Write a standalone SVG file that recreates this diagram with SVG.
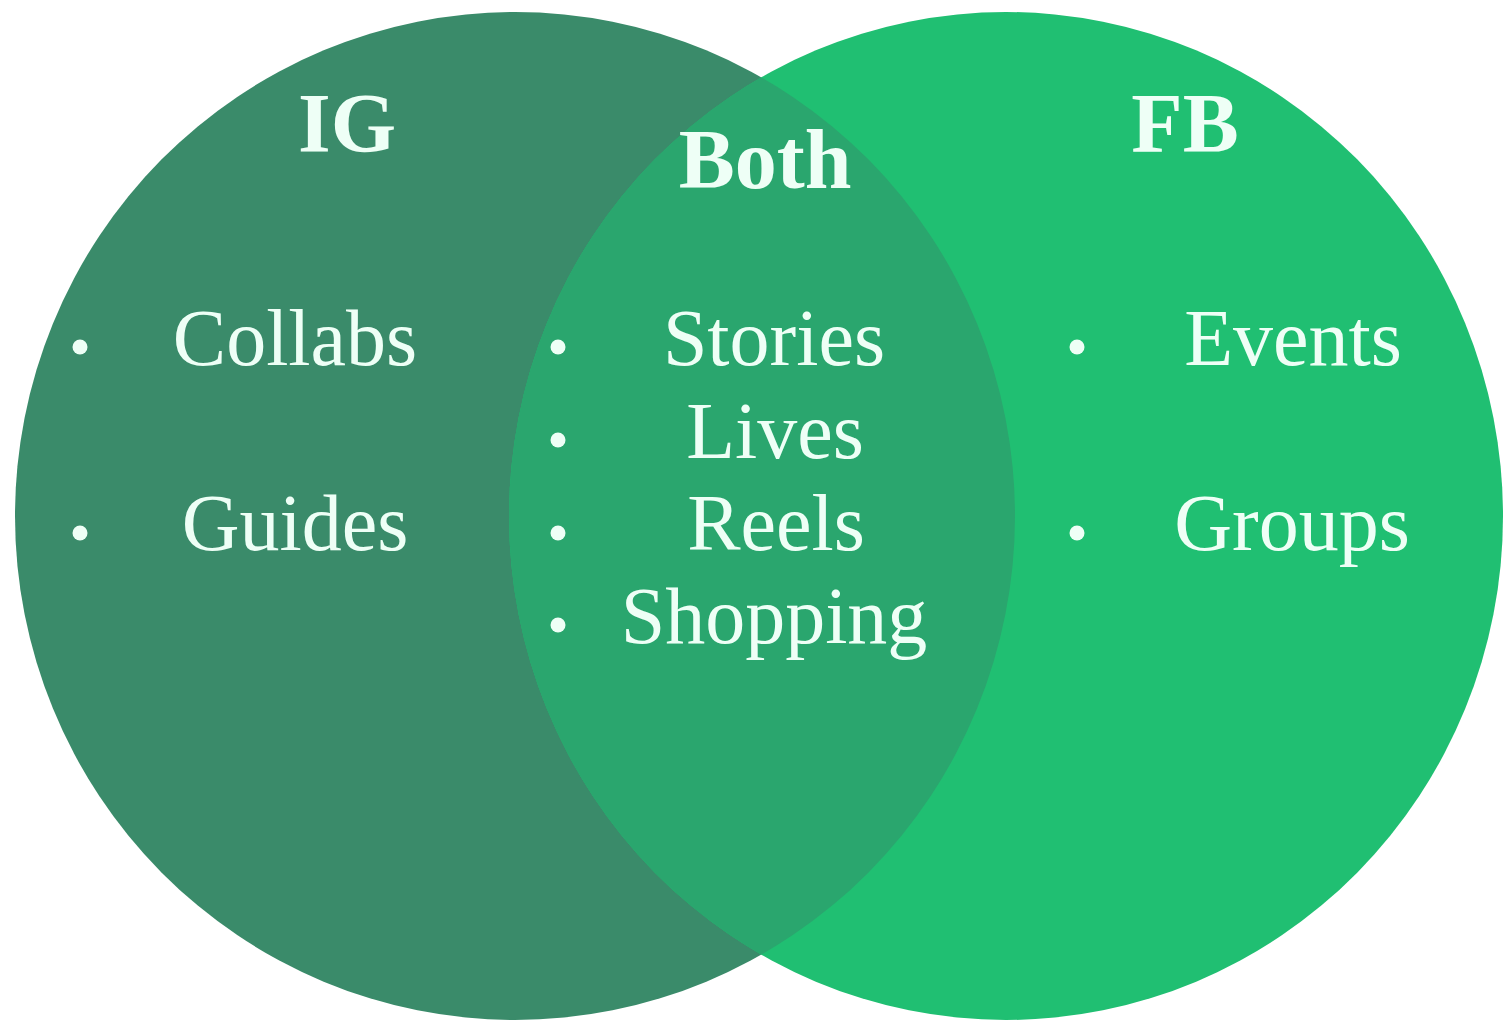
<svg xmlns="http://www.w3.org/2000/svg" width="1509" height="1024" viewBox="0 0 1509 1024">
<style>
.t{font-family:"Liberation Serif","Times New Roman",serif;fill:#eefff6;text-anchor:middle}
.h{font-size:84px;font-weight:bold}
.b{font-size:80px}
.dot{fill:#eefff6}
</style>
<rect width="1509" height="1024" fill="#ffffff"/>
<g id="ig-circle"><ellipse cx="515" cy="516" rx="500" ry="504" fill="#3a8b6a"/></g>
<g id="fb-circle"><ellipse cx="1006" cy="516" rx="497" ry="504" fill="#20bf72"/></g>
<g id="overlap">
<clipPath id="cl"><ellipse cx="515" cy="516" rx="500" ry="504"/></clipPath>
<ellipse cx="1006" cy="516" rx="497" ry="504" fill="#2aa66e" clip-path="url(#cl)"/>
</g>
<g id="ig">
<text class="t h" x="347" y="152">IG</text>
<circle class="dot" cx="80" cy="347" r="7.5"/>
<text class="t b" x="295" y="365">Collabs</text>
<circle class="dot" cx="80" cy="533" r="7.5"/>
<text class="t b" x="295" y="550">Guides</text>
</g>
<g id="both">
<text class="t h" x="765" y="188">Both</text>
<circle class="dot" cx="558" cy="347" r="7.5"/>
<text class="t b" x="774" y="365">Stories</text>
<circle class="dot" cx="558" cy="440" r="7.5"/>
<text class="t b" x="775" y="458">Lives</text>
<circle class="dot" cx="558" cy="533" r="7.5"/>
<text class="t b" x="776" y="550">Reels</text>
<circle class="dot" cx="558" cy="625" r="7.5"/>
<text class="t b" x="774" y="643">Shopping</text>
</g>
<g id="fb">
<text class="t h" x="1185" y="152">FB</text>
<circle class="dot" cx="1077" cy="347" r="7.5"/>
<text class="t b" x="1293" y="365">Events</text>
<circle class="dot" cx="1077" cy="533" r="7.5"/>
<text class="t b" x="1292" y="550">Groups</text>
</g>
<g id="connectors"/>
</svg>
